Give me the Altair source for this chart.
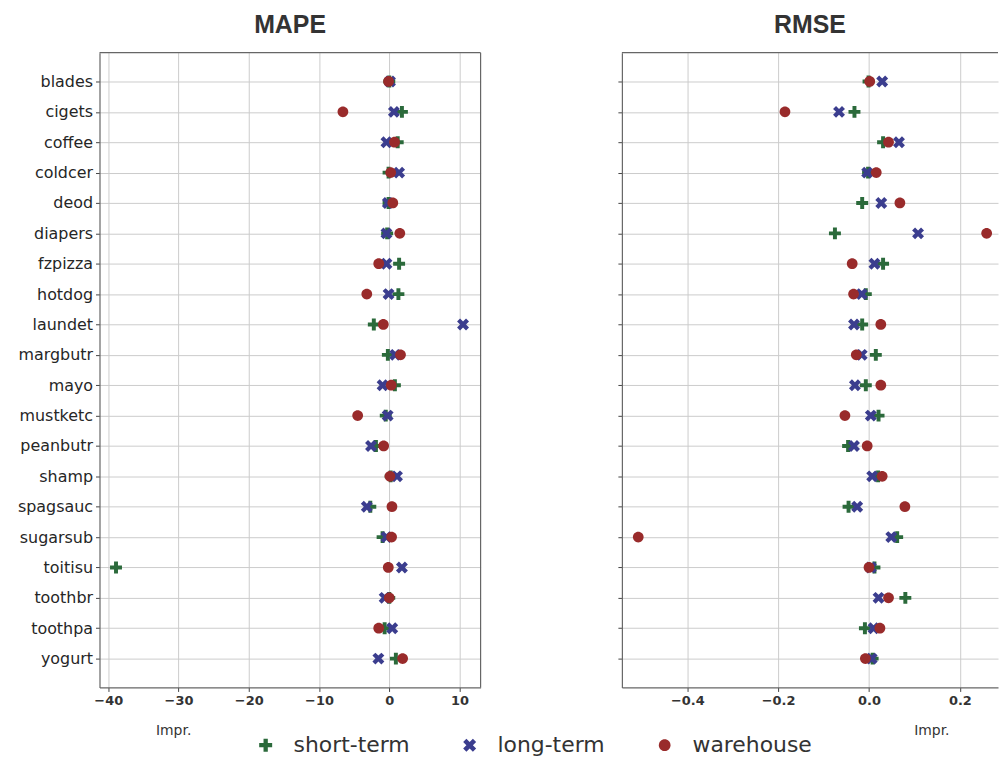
import altair as alt
import pandas as pd

# Product categories, top to bottom
categories = ["blades", "cigets", "coffee", "coldcer", "deod", "diapers", "fzpizza",
              "hotdog", "laundet", "margbutr", "mayo", "mustketc", "peanbutr", "shamp",
              "spagsauc", "sugarsub", "toitisu", "toothbr", "toothpa", "yogurt"]

series = ["short-term", "long-term", "warehouse"]

# MAPE improvement per category
mape_short = [0.0, 1.8, 1.2, -0.1, -0.1, -0.3, 1.4, 1.3, -2.2, -0.2,
              0.8, -0.5, -1.9, 0.2, -2.7, -0.95, -38.9, 0.0, -0.66, 0.94]
mape_long = [0.1, 0.66, -0.4, 1.4, -0.2, -0.4, -0.4, -0.1, 10.5, 0.85,
             -0.95, -0.23, -2.6, 1.1, -3.2, -0.4, 1.8, -0.66, 0.42, -1.55]
mape_warehouse = [-0.1, -6.6, 0.75, 0.2, 0.5, 1.5, -1.5, -3.2, -0.85, 1.6,
                  0.28, -4.5, -0.8, 0.1, 0.38, 0.33, -0.14, 0.0, -1.5, 1.9]

# RMSE improvement per category
rmse_short = [-0.001, -0.032, 0.031, -0.002, -0.015, -0.075, 0.031, -0.007, -0.015, 0.015,
              -0.007, 0.021, -0.046, 0.020, -0.045, 0.062, 0.012, 0.080, -0.009, 0.008]
rmse_long = [0.029, -0.066, 0.066, -0.004, 0.027, 0.108, 0.012, -0.016, -0.033, -0.016,
             -0.031, 0.004, -0.033, 0.007, -0.026, 0.049, 0.004, 0.021, 0.010, 0.006]
rmse_warehouse = [0.0015, -0.185, 0.043, 0.016, 0.068, 0.259, -0.037, -0.034, 0.026, -0.028,
                  0.026, -0.053, -0.004, 0.029, 0.079, -0.508, 0.0, 0.043, 0.024, -0.008]

mape_ticks = [-40, -30, -20, -10, 0, 10]
rmse_ticks = [-0.4, -0.2, 0.0, 0.2]


def long_frame(values_by_series):
    rows = []
    for name, vals in zip(series, values_by_series):
        for cat, v in zip(categories, vals):
            rows.append({"category": cat, "series": name, "impr": v})
    return pd.DataFrame(rows)


mape_df = long_frame([mape_short, mape_long, mape_warehouse])
rmse_df = long_frame([rmse_short, rmse_long, rmse_warehouse])

PLUS = "M-1,-0.33H-0.33V-1H0.33V-0.33H1V0.33H0.33V1H-0.33V0.33H-1Z"
CROSS_X = "M-1,-0.5L-0.5,-1L0,-0.5L0.5,-1L1,-0.5L0.5,0L1,0.5L0.5,1L0,0.5L-0.5,1L-1,0.5L-0.5,0Z"
DOT = "M0,-0.9A0.9,0.9,0,1,1,0,0.9A0.9,0.9,0,1,1,0,-0.9Z"

colors = ["#2b6a3b", "#3b3d8e", "#992b2b"]
FRAME = "#666666"
GRID = "#cccccc"
TEXT = "#333333"
H = 638


def panel(df, title, domain, ticks, fmt, width, title_x, show_labels, right_border):
    points = alt.Chart(df).mark_point(filled=True, opacity=1, size=144).encode(
        x=alt.X("impr:Q",
                scale=alt.Scale(domain=domain, nice=False, zero=False),
                axis=alt.Axis(values=ticks, format=fmt, title="Impr.",
                              titleX=title_x, titleY=43, titleAlign="center",
                              titleBaseline="middle", titleFont="DejaVu Sans",
                              titleFontSize=14, titleFontWeight="normal",
                              titleColor=TEXT, labelFont="DejaVu Sans",
                              labelFontSize=13, labelFontWeight="bold",
                              labelColor=TEXT, labelPadding=3,
                              tickSize=4, tickColor="#444444",
                              domainColor=FRAME, domainWidth=1.2,
                              gridColor=GRID)),
        y=alt.Y("category:N", sort=categories,
                scale=alt.Scale(type="point", domain=categories, padding=0.95),
                axis=alt.Axis(title=None, labels=show_labels, labelFont="DejaVu Sans",
                              labelFontSize=16, labelColor="#262626", labelPadding=3,
                              tickSize=4, tickColor="#444444",
                              domainColor=FRAME, domainWidth=1.2,
                              gridColor=GRID)),
        color=alt.Color("series:N",
                        scale=alt.Scale(domain=series, range=colors),
                        legend=alt.Legend(title=None)),
        shape=alt.Shape("series:N",
                        scale=alt.Scale(domain=series, range=[PLUS, CROSS_X, DOT]),
                        legend=alt.Legend(title=None)),
    )
    border = alt.Data(values=[{}])
    top = alt.Chart(border).mark_rule(color=FRAME, strokeWidth=1.2).encode(
        x=alt.value(0), x2=alt.value(width), y=alt.value(0))
    layers = [points, top]
    if right_border:
        layers.append(alt.Chart(border).mark_rule(color=FRAME, strokeWidth=1.2).encode(
            x=alt.value(width), y=alt.value(0), y2=alt.value(H)))
    return alt.layer(*layers).properties(
        width=width, height=H,
        title=alt.TitleParams(title, font="Liberation Sans", fontSize=25,
                              fontWeight="bold", color=TEXT, offset=14),
    )


left = panel(mape_df, "MAPE", [-41.25, 13.0], mape_ticks, "d", 383, 74, True, True)
right = panel(rmse_df, "RMSE", [-0.544, 0.284], rmse_ticks, ".1f", 378, 311, False, False)

chart = alt.hconcat(left, right, spacing=136).properties(
    padding={"left": 17, "top": 11, "right": 0, "bottom": 0},
).configure_view(stroke=None).configure_legend(
    orient="none", legendX=156, legendY=685, direction="horizontal", columns=3,
    labelFont="DejaVu Sans", labelFontSize=22, labelColor=TEXT, labelOffset=17,
    symbolSize=170, symbolStrokeWidth=0, columnPadding=49, padding=0,
).configure_axis(grid=True, gridWidth=1)

chart.save("out.html", embed_options={"renderer": "svg", "actions": False})
